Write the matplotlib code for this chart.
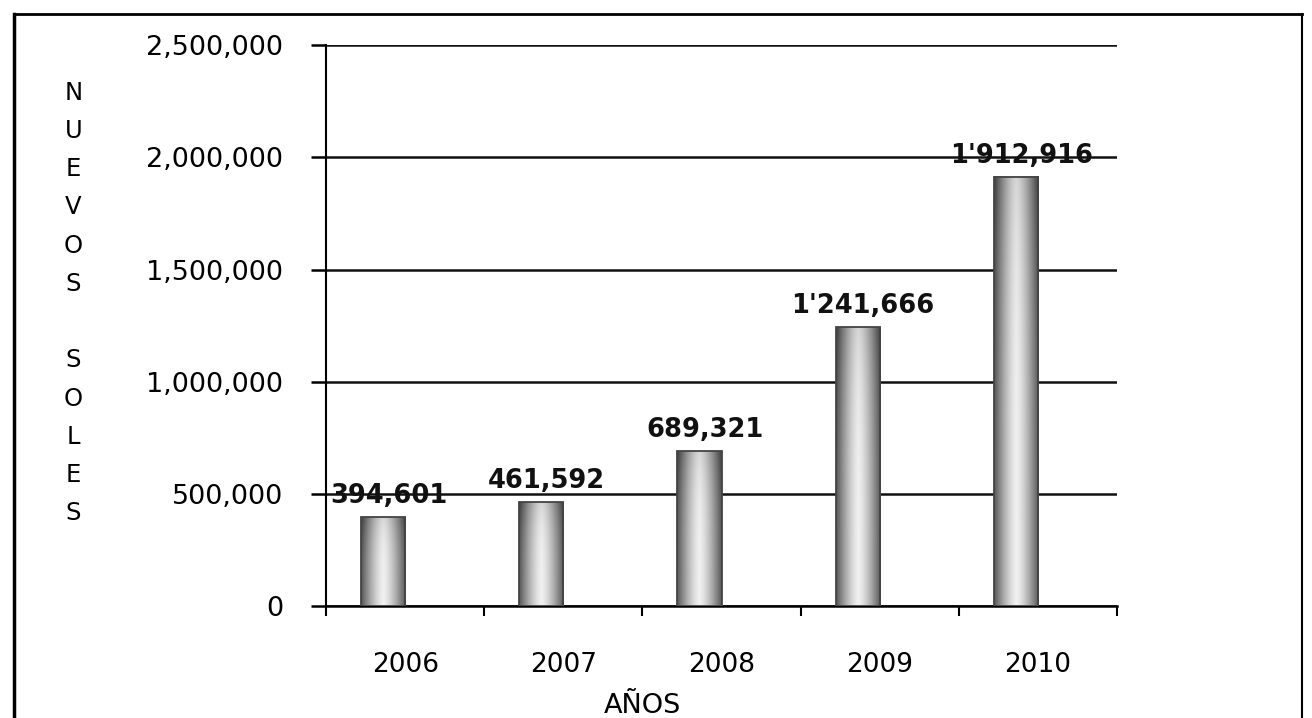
import numpy as np
import matplotlib
matplotlib.use("Agg")
import matplotlib.pyplot as plt
from matplotlib.lines import Line2D
from matplotlib.ticker import FuncFormatter, FixedLocator

# datos del grafico
anios = ["2006", "2007", "2008", "2009", "2010"]
valores = [394601, 461592, 689321, 1241666, 1912916]
y_ticks = [0, 500000, 1000000, 1500000, 2000000, 2500000]
eje_y = "NUEVOS SOLES"
eje_x = "AÑOS"

plt.rcParams['font.family'] = ['DejaVu Sans']


def etiqueta(v):
    # formato con apostrofe para los millones: 1'241,666
    if v >= 1000000:
        m, r = divmod(v, 1000000)
        return f"{m}'{r // 1000:03d},{r % 1000:03d}"
    return f"{v:,}"


fig = plt.figure(figsize=(13.12, 7.18), dpi=100)
ax = fig.add_axes([0.2485, 0.156, 0.603, 0.781])

x = np.arange(len(anios))
ancho = 0.28  # la barra queda a la izquierda del centro (serie vacia en Excel)

# degradado horizontal para simular barras cilindricas
perfil = np.linspace(-1, 1, 64)
fila = 0.94 - 0.60 * np.abs(perfil) ** 1.4
vert = np.linspace(0, 1, 60)[:, None]
grad = fila[None, :] - 0.10 * vert ** 4

for xi, v in zip(x, valores):
    x0 = xi - ancho
    ax.imshow(grad, cmap="gray", vmin=0, vmax=1, aspect="auto",
              extent=(x0, xi, 0, v),
              origin="lower", zorder=3, interpolation="bilinear")
    ax.add_patch(plt.Rectangle((x0, 0), ancho, v, fill=False,
                               edgecolor="#444444", lw=1.3, zorder=4))
    ax.annotate(etiqueta(v), (xi - ancho / 2, v), xytext=(4, 6),
                textcoords="offset points", ha="center", va="bottom",
                fontsize=18.5, fontweight="bold", color="#111111", zorder=5)

ax.set_xlim(-0.5, len(anios) - 0.5)
ax.set_ylim(0, 2500000)
ax.set_yticks(y_ticks)
ax.yaxis.set_major_formatter(FuncFormatter(lambda v, p: f"{int(v):,}"))
ax.yaxis.grid(True, color="#111111", lw=1.8, zorder=1)
ax.set_axisbelow(True)

ax.set_xticks(x)
ax.set_xticklabels(anios)
ax.xaxis.set_minor_locator(FixedLocator(np.arange(-0.5, len(anios), 1.0)))
ax.tick_params(axis="x", which="major", length=0, pad=33, labelsize=19)
ax.tick_params(axis="x", which="minor", length=7, width=1.5, direction="out")
ax.tick_params(axis="y", length=11, width=1.8, direction="out", pad=20,
               labelsize=19.5)

for lado in ["top", "right"]:
    ax.spines[lado].set_visible(False)
ax.spines["left"].set_linewidth(1.5)
ax.spines["bottom"].set_linewidth(1.8)

ax.set_xlabel(eje_x, fontsize=19.5)
ax.xaxis.set_label_coords(0.40, -0.155)

# rotulo vertical letra por letra
fig.text(0.056, 0.578, "\n".join(eje_y), fontsize=17.5,
         ha="center", va="center", linespacing=1.75)

# marco exterior del documento escaneado
fig.add_artist(Line2D([0.011, 0.992], [0.981, 0.981], color="black", lw=2))
fig.add_artist(Line2D([0.011, 0.011], [0.0, 0.981], color="black", lw=2.5))
fig.add_artist(Line2D([0.992, 0.992], [0.0, 0.981], color="black", lw=1.5))

fig.savefig("out.png", dpi=100)
